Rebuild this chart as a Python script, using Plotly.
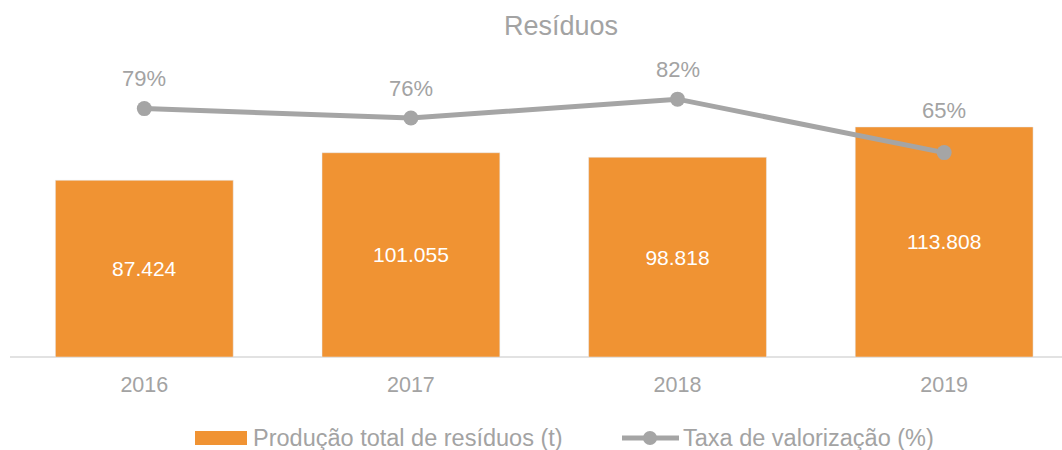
import plotly.graph_objects as go

# ---- data ----
years = ["2016", "2017", "2018", "2019"]
producao = [87424, 101055, 98818, 113808]          # t
taxa = [0.79, 0.76, 0.82, 0.65]                     # fraction
title_text = "Resíduos"
bar_name = "Produção total de resíduos (t)"
line_name = "Taxa de valorização (%)"

# ---- style ----
W, H = 1062, 450
ML, MR, MT, MB = 11, 0, 74, 93
ORANGE = "#F09333"
GRAY_LINE = "#A5A5A5"
TXT = "#A3A3A3"
FONT = "Arial, Liberation Sans, sans-serif"
label_shift = [30, 30, 30, 42]

def px_x(px):
    return (px - ML) / (W - ML - MR)

def px_y(py):
    return (H - MB - py) / (H - MT - MB)

bar_text = [f"{v:,}".replace(",", ".") for v in producao]
pct_text = [f"{round(t * 100)}%" for t in taxa]

fig = go.Figure()
fig.add_trace(go.Bar(
    x=years, y=producao, name=bar_name, marker_color=ORANGE,
    width=0.667, text=bar_text, textposition="inside",
    insidetextanchor="middle", textangle=0,
    textfont=dict(color="white", size=21, family=FONT),
    showlegend=False, cliponaxis=False,
))
fig.add_trace(go.Scatter(
    x=years, y=taxa, name=line_name, yaxis="y2", mode="lines+markers",
    line=dict(color=GRAY_LINE, width=5),
    marker=dict(color=GRAY_LINE, size=15),
    showlegend=False, cliponaxis=False,
))

annotations = []
for i, (t, s, lab) in enumerate(zip(taxa, label_shift, pct_text)):
    annotations.append(dict(
        x=i, y=t, xref="x", yref="y2", text=lab, showarrow=False,
        yshift=s, font=dict(size=22, color=TXT, family=FONT),
        xanchor="center", yanchor="middle",
    ))

# custom legend
leg_y = 438
shapes = [
    dict(type="rect", xref="paper", yref="paper",
         x0=px_x(195), x1=px_x(247), y0=px_y(445), y1=px_y(431),
         fillcolor=ORANGE, line=dict(width=0)),
    dict(type="line", xref="paper", yref="paper",
         x0=px_x(622), x1=px_x(679), y0=px_y(leg_y), y1=px_y(leg_y),
         line=dict(color=GRAY_LINE, width=5)),
    dict(type="circle", xref="paper", yref="paper",
         x0=px_x(643), x1=px_x(657), y0=px_y(leg_y + 7), y1=px_y(leg_y - 7),
         fillcolor=GRAY_LINE, line=dict(width=0)),
    dict(type="line", xref="paper", yref="paper",
         x0=px_x(10), x1=px_x(1062), y0=0, y1=0,
         line=dict(color="#D9D9D9", width=1.5), layer="below"),
]
annotations.append(dict(x=px_x(251), y=px_y(leg_y), xref="paper", yref="paper",
                        text=bar_name, showarrow=False, xanchor="left", yanchor="middle",
                        font=dict(size=23.5, color=TXT, family=FONT)))
annotations.append(dict(x=px_x(681), y=px_y(leg_y), xref="paper", yref="paper",
                        text=line_name, showarrow=False, xanchor="left", yanchor="middle",
                        font=dict(size=23.5, color=TXT, family=FONT)))

hidden_axis = dict(showgrid=False, zeroline=False, showline=False,
                   showticklabels=False, ticks="", fixedrange=True)

fig.update_layout(
    width=W, height=H,
    margin=dict(l=ML, r=MR, t=MT, b=MB, autoexpand=False),
    paper_bgcolor="white", plot_bgcolor="white",
    title=dict(text=title_text, x=561 / W, xref="container", xanchor="center",
               y=1 - 26 / H, yref="container", yanchor="middle",
               font=dict(size=27, color=TXT, family=FONT)),
    xaxis=dict(type="category", range=[-0.5, 3.442], showgrid=False, zeroline=False,
               showline=False, ticks="", tickfont=dict(size=21.5, color=TXT, family=FONT),
               ticklabelstandoff=12, fixedrange=True),
    yaxis=dict(range=[0, 140000], **hidden_axis),
    yaxis2=dict(range=[0, 0.9], overlaying="y", side="right", **hidden_axis),
    showlegend=False,
    shapes=shapes,
    annotations=annotations,
)

fig.write_html("out.html", config={"displayModeBar": False},
               post_script="document.body.style.margin='0';document.body.style.padding='0';")
